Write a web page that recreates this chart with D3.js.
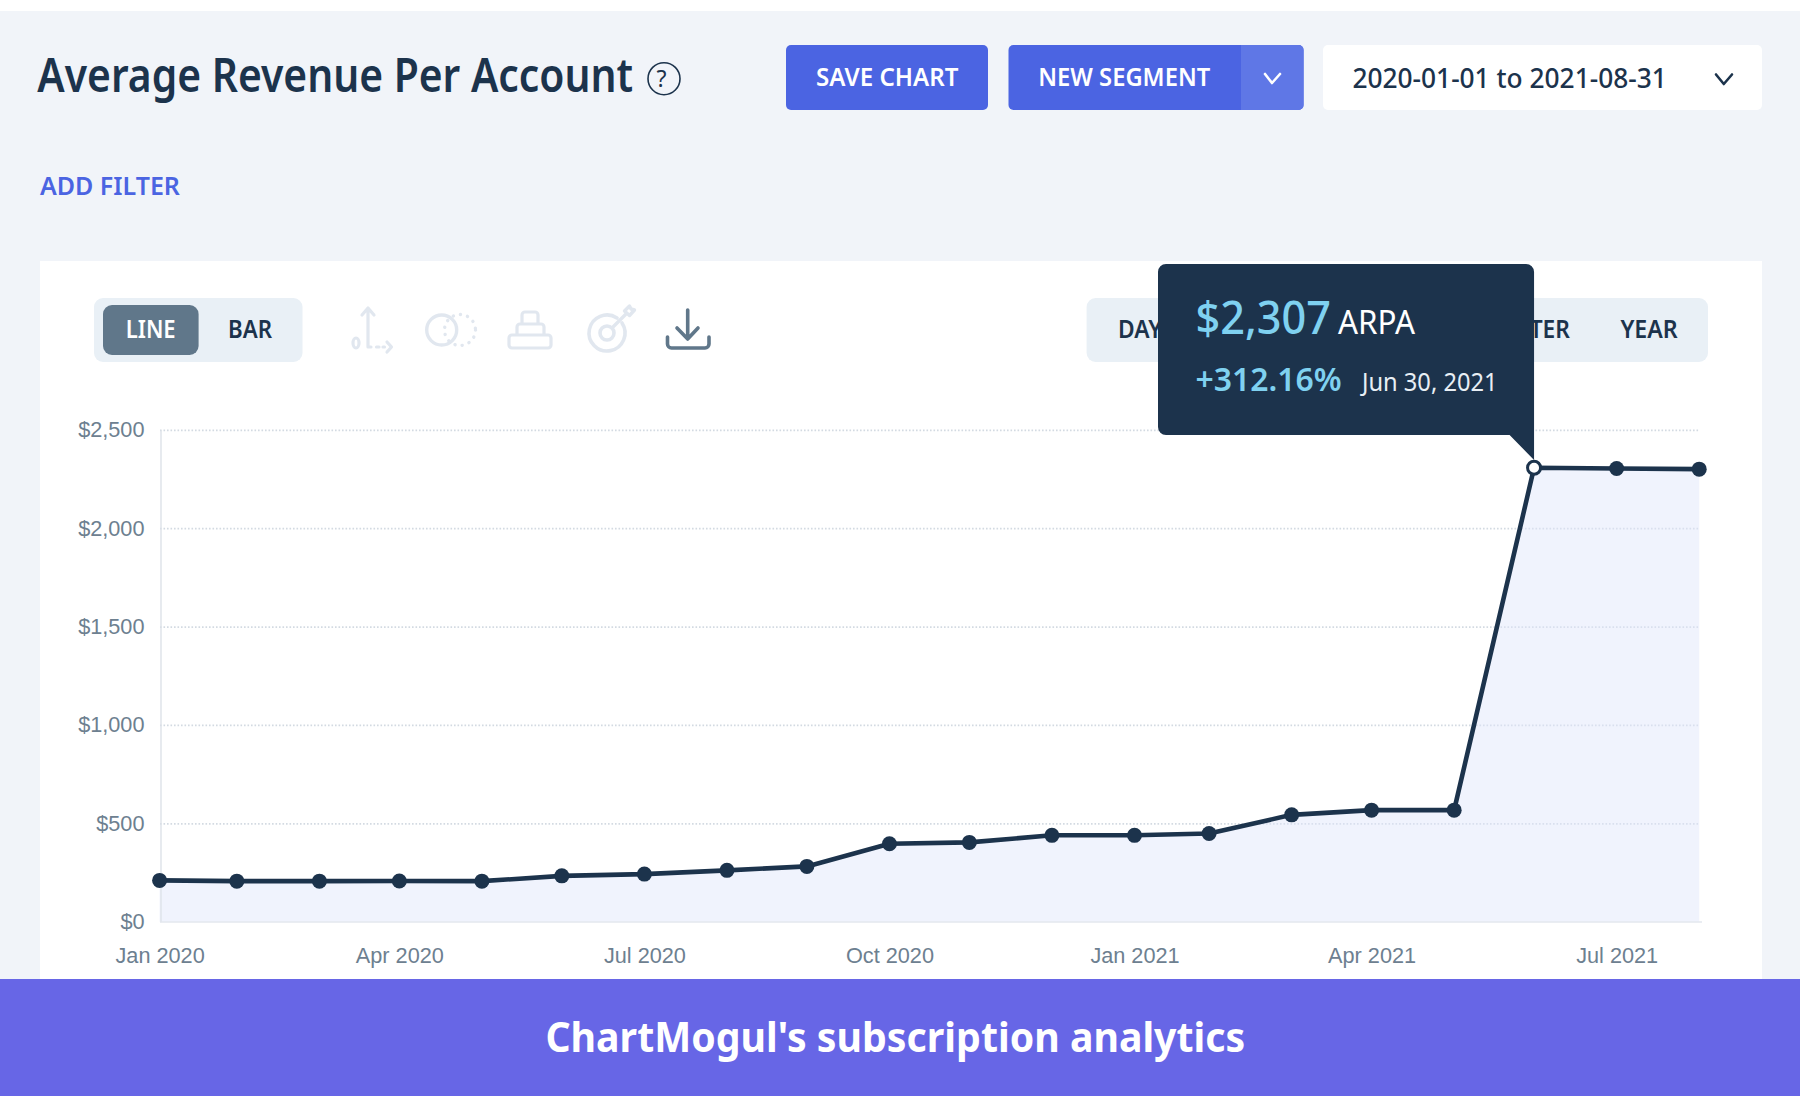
<!DOCTYPE html>
<html><head><meta charset="utf-8">
<script src="https://cdn.jsdelivr.net/npm/d3@7/dist/d3.min.js"></script>
<style>html,body{margin:0;padding:0;background:#fff;overflow:hidden}svg{display:block}</style>
</head><body><svg id="c" width="1800" height="1096"></svg>
<script>
// Month-end dates of each reading
const dates = ["2020-01-31","2020-02-29","2020-03-31","2020-04-30","2020-05-31","2020-06-30","2020-07-31","2020-08-31","2020-09-30","2020-10-31","2020-11-30","2020-12-31","2021-01-31","2021-02-28","2021-03-31","2021-04-30","2021-05-31","2021-06-30","2021-07-31","2021-08-31"];
const arpa = [210,206,206,207,206,233,242,261,281,396,403,439,439,448,543,567,567,2307,2303,2300];
const xTickDates = ["2020-01-31","2020-04-30","2020-07-31","2020-10-31","2021-01-31","2021-04-30","2021-07-31"];
const yTicks = [0,500,1000,1500,2000,2500];
const highlightIndex = 17;

const UI = "'Noto Sans', sans-serif", AX = "'Liberation Sans', Arial, sans-serif";
const NAVY="#1c334c", BLUE="#4b64e2", PAGE="#f1f4f9", PALE="#e9f0f6", SLATE="#60778a", ICON="#e1e7ef";
const svg = d3.select("#c");
const parse = d3.utcParse("%Y-%m-%d");
const rows = dates.map((d,i)=>({date:parse(d),value:arpa[i]}));

function rect(x,y,w,h,r,fill,g){return (g||svg).append("rect").attr("x",x).attr("y",y).attr("width",w).attr("height",h).attr("rx",r).attr("fill",fill);}
// Text set at a given size, then squeezed sideways to the width it has in the reference.
function label(t,x,base,size,weight,fill,width,font,g){
  const e=(g||svg).append("text").attr("font-family",font||UI).attr("font-size",size).attr("font-weight",weight).attr("fill",fill).text(t);
  const natural=e.node().getComputedTextLength();
  const sx=width?width/natural:1;
  e.attr("transform",`translate(${x},${base}) scale(${sx},1)`);
  return e;
}
function stroke(d,col,w,g){return (g||svg).append("path").attr("d",d).attr("fill","none").attr("stroke",col).attr("stroke-width",w).attr("stroke-linecap","round").attr("stroke-linejoin","round");}
function ring(cx,cy,r,col,w){return svg.append("circle").attr("cx",cx).attr("cy",cy).attr("r",r).attr("fill","none").attr("stroke",col).attr("stroke-width",w);}

// page
rect(0,11,1800,968,0,PAGE);
rect(40,261,1722,718,0,"#fff");

// header
label("Average Revenue Per Account",37.3,91.7,46,600,NAVY,596);
ring(664,78.7,16,NAVY,1.6);
label("?",656.5,87,23,400,NAVY);
rect(786,45,202,65,5,BLUE);
label("SAVE CHART",816,85.7,25,600,"#fff",142.5);
rect(1008.5,45,295,65,5,BLUE);
svg.append("path").attr("d","M1241,45H1298.6a5,5 0 0 1 5,5V105a5,5 0 0 1 -5,5H1241Z").attr("fill","#5f77e6");
label("NEW SEGMENT",1038.3,85.7,25,600,"#fff",172);
stroke("M1265,74L1272,83L1280,74","#fff",2.6);
rect(1323,45,439,65,5,"#fff");
label("2020-01-01 to 2021-08-31",1352.4,87.7,28,500,NAVY,314.6);
stroke("M1716,74.5L1723.8,84L1732,74.5",NAVY,2.6);
label("ADD FILTER",40,195,25,600,BLUE,140);

// toggles
rect(94,298,208.5,64,9,PALE);
rect(103,305,95.6,50,9,SLATE);
label("LINE",125.7,337.8,25,600,"#fff",50);
label("BAR",228,337.8,25,600,NAVY,44);
rect(1086.6,298,621.4,64,9,PALE);
label("DAY",1118,337.8,25,600,NAVY,44);
label("QUARTER",1465,337.8,25,600,NAVY,105);
label("YEAR",1620.4,337.8,25,600,NAVY,57.4);

// toolbar icons
stroke("M368,347V308M362,315L368,308L374,315M368,347H371M376.5,347H379M383,347H384.5M387,342L391.5,347L387,352",ICON,3.2);
svg.append("ellipse").attr("cx",356).attr("cy",343).attr("rx",3).attr("ry",5).attr("fill","none").attr("stroke",ICON).attr("stroke-width",3.2);
ring(441.7,330,15,ICON,3.4);
ring(460,330,15.5,ICON,3.4).attr("stroke-linecap","round").attr("stroke-dasharray","0.1 7.2");
stroke("M522,324V315a3,3 0 0 1 3,-3H535a3,3 0 0 1 3,3V324ZM517,335V327a3,3 0 0 1 3,-3H541a3,3 0 0 1 3,3V335ZM509,338a3,3 0 0 1 3,-3H548a3,3 0 0 1 3,3V345a3,3 0 0 1 -3,3H512a3,3 0 0 1 -3,-3Z",ICON,3.2);
stroke("M617,318A18,18 0 1 0 622,323",ICON,3.6);
ring(607,333,7,ICON,3.6);
stroke("M612,328L626,314M624.5,311L629.5,306L631,309L634.5,310L629.5,315.5Z",ICON,3.4);
stroke("M687.7,310V338M677,328L687.7,339L698,328M667.5,337V344a4,4 0 0 0 4,4H705a4,4 0 0 0 4,-4V337",SLATE,3.6);

// chart
const x = d3.scaleUtc().domain(d3.extent(rows,d=>d.date)).range([159.6,1699.2]);
const y = d3.scaleLinear().domain([0,2500]).range([921.7,429.8]);

const grid = svg.append("g").attr("transform","translate(160,0)")
  .call(d3.axisLeft(y).tickValues(yTicks.slice(1)).tickSize(-1540).tickFormat(""));
grid.select(".domain").remove();
grid.selectAll("line").attr("stroke","#d3dae2").attr("stroke-width",1.8).attr("stroke-dasharray","1.6 1.9");

svg.append("path").datum(rows).attr("fill","#e0e6fa").attr("fill-opacity",0.47)
  .attr("d",d3.area().x(d=>x(d.date)).y0(y(0)).y1(d=>y(d.value)));

const yAxis = svg.append("g").attr("transform","translate(160.5,0)")
  .call(d3.axisLeft(y).tickValues(yTicks).tickSize(0).tickPadding(16).tickFormat(d=>"$"+d3.format(",")(d)));
yAxis.select(".domain").attr("stroke","#dde2e8").attr("stroke-width",1.4);
yAxis.selectAll("text").attr("font-family",AX).attr("font-size",21.7).attr("fill","#6d8090");

const xAxis = svg.append("g").attr("transform","translate(0,922)")
  .call(d3.axisBottom(x).tickValues(xTickDates.map(parse)).tickSize(0).tickPadding(26).tickFormat(d3.utcFormat("%b %Y")));
xAxis.select(".domain").attr("stroke","#e3e7ee").attr("stroke-width",1.6).attr("d","M160,0H1702");
xAxis.selectAll("text").attr("font-family",AX).attr("font-size",21.7).attr("fill","#6d8090");

svg.append("path").datum(rows).attr("fill","none").attr("stroke",NAVY).attr("stroke-width",4.6).attr("stroke-linejoin","round")
  .attr("d",d3.line().x(d=>x(d.date)).y(d=>y(d.value)));
svg.append("g").selectAll("circle").data(rows).join("circle")
  .attr("cx",d=>x(d.date)).attr("cy",d=>y(d.value))
  .attr("r",(d,i)=>i===highlightIndex?6.5:7.5)
  .attr("fill",(d,i)=>i===highlightIndex?"#fff":NAVY)
  .attr("stroke",NAVY).attr("stroke-width",(d,i)=>i===highlightIndex?3:0);

// tooltip
const hx = x(rows[highlightIndex].date);
const tip = svg.append("g");
tip.append("path").attr("d",`M1166,264H${hx-8}a8,8 0 0 1 8,8V460L1509.6,435H1166a8,8 0 0 1 -8,-8V272a8,8 0 0 1 8,-8Z`).attr("fill",NAVY);
label("$2,307",1195.6,334.3,46,500,"#7fd1f0",135.5,UI,tip);
label("ARPA",1338,334,33,400,"#fff",77,UI,tip);
label("+312.16%",1195.6,390.7,33,600,"#7fd1f0",146,UI,tip);
label("Jun 30, 2021",1362,390.7,25,400,"#e8eff5",135.6,UI,tip);

// footer
rect(0,979,1800,117,0,"#6766e6");
label("ChartMogul's subscription analytics",545.4,1052,41,700,"#fff",700);
</script></body></html>
